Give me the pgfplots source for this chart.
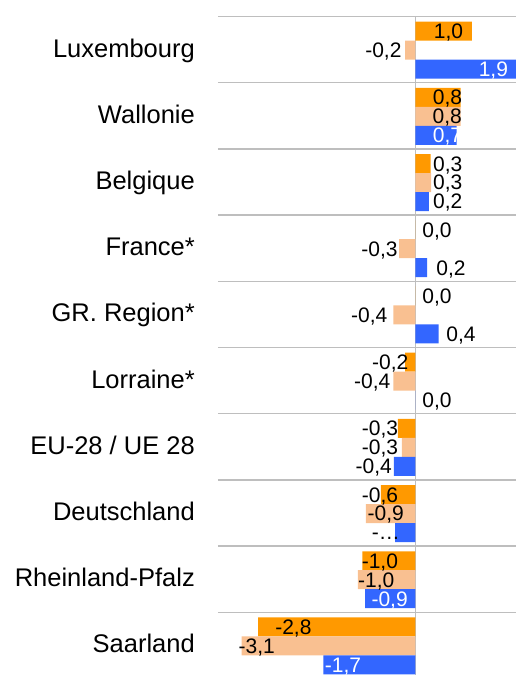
\documentclass[border=0pt]{standalone}
\usepackage{pgfplots}
\usepackage{pgfplotstable}
\pgfplotsset{compat=1.18}
\usepackage{fontspec}
\setmainfont{Liberation Sans}
\definecolor{cOr}{RGB}{255,153,0}
\definecolor{cPe}{RGB}{249,192,145}
\definecolor{cBl}{RGB}{51,102,255}
\definecolor{cGr}{RGB}{190,190,190}

\pgfplotstableread{
y  or    pe    bl
9  1.00 -0.18  1.90
8  0.80  0.80  0.73
7  0.27  0.28  0.24
6  0.00 -0.29  0.21
5  0.00 -0.39  0.41
4 -0.18 -0.39  0.00
3 -0.31 -0.24 -0.38
2 -0.61 -0.88 -0.36
1 -0.94 -1.02 -0.89
0 -2.79 -3.08 -1.63
}\bars

\pgfplotstableread{
y lx label
9 0.587 1,0
8 0.569 0,8
7 0.575 0,3
6 0.383 0,0
5 0.383 0,0
4 -0.447 -0,2
3 -0.628 -0,3
2 -0.628 -0,6
1 -0.630 -1,0
0 -2.163 -2,8
}\labOr

\pgfplotstableread{
y lx label
9 -0.567 -0,2
8 0.566 0,8
7 0.575 0,3
6 -0.637 -0,3
5 -0.819 -0,4
4 -0.766 -0,4
3 -0.628 -0,3
2 -0.525 -0,9
1 -0.695 -1,0
0 -2.812 -3,1
}\labPe

\pgfplotstableread{
y lx label
7 0.575 0,2
6 0.631 0,2
5 0.809 0,4
4 0.383 0,0
3 -0.738 -0,4
2 -0.525 -…
}\labBlK

\pgfplotstableread{
y lx label
9 1.383 1,9
8 0.569 0,7
1 -0.456 -0,9
0 -1.284 -1,7
}\labBlW

\begin{document}
\begin{tikzpicture}
\useasboundingbox (0,0) rectangle (516pt,675pt);
\clip (0,0) rectangle (516pt,675pt);
\begin{axis}[
  at={(218pt,-3.5pt)}, anchor=south west,
  scale only axis, width=298pt, height=662pt,
  xmin=-3.5, xmax=1.784, ymin=-0.5, ymax=9.5,
  axis line style={draw=none},
  tick style={draw=none},
  major tick length=0pt, minor tick length=0pt,
  xtick=\empty,
  extra x ticks={0}, extra x tick labels={},
  extra x tick style={grid=major, major grid style={cGr, line width=1pt}},
  ytick={0,...,9},
  yticklabels={Saarland,Rheinland-Pfalz,Deutschland,EU-28 / UE 28,Lorraine*,GR. Region*,France*,Belgique,Wallonie,Luxembourg},
  yticklabel style={anchor=base east, inner sep=0pt, xshift=-23pt, yshift=-7.5pt, font=\fontsize{25.5}{25.5}\selectfont},
  minor ytick={-0.5,0.5,...,9.5},
  yminorgrids,
  minor grid style={cGr, line width=1.5pt},
]
\addplot[xbar, bar width=19pt, bar shift=18.4pt, fill=cOr, draw=none] table[x=or, y=y] {\bars};
\addplot[xbar, bar width=19pt, bar shift=-0.55pt, fill=cPe, draw=none] table[x=pe, y=y] {\bars};
\addplot[xbar, bar width=19pt, bar shift=-19.55pt, fill=cBl, draw=none] table[x=bl, y=y] {\bars};

\addplot[draw=none, nodes near coords, point meta=explicit symbolic,
  every node near coord/.style={anchor=base, inner sep=0pt, yshift=10.9pt, text=black, font=\fontsize{21}{21}\selectfont}]
  table[x=lx, y=y, meta=label] {\labOr};
\addplot[draw=none, nodes near coords, point meta=explicit symbolic,
  every node near coord/.style={anchor=base, inner sep=0pt, yshift=-8pt, text=black, font=\fontsize{21}{21}\selectfont}]
  table[x=lx, y=y, meta=label] {\labPe};
\addplot[draw=none, nodes near coords, point meta=explicit symbolic,
  every node near coord/.style={anchor=base, inner sep=0pt, yshift=-27pt, text=black, font=\fontsize{21}{21}\selectfont}]
  table[x=lx, y=y, meta=label] {\labBlK};
\addplot[draw=none, nodes near coords, point meta=explicit symbolic,
  every node near coord/.style={anchor=base, inner sep=0pt, yshift=-27pt, text=white, font=\fontsize{21}{21}\selectfont}]
  table[x=lx, y=y, meta=label] {\labBlW};
\end{axis}
\end{tikzpicture}
\end{document}
